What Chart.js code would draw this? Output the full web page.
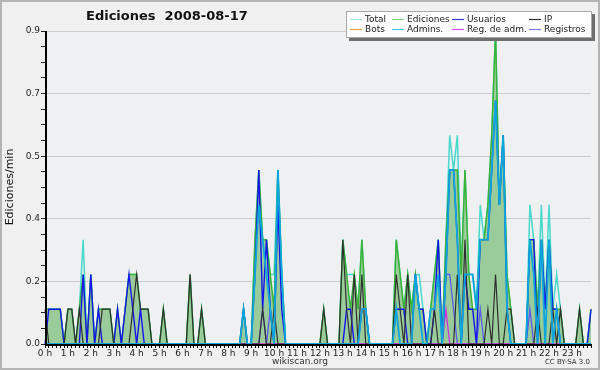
<!DOCTYPE html>
<html>
<head>
<meta charset="utf-8">
<script src="https://cdn.jsdelivr.net/npm/chart.js@4.4.1/dist/chart.umd.min.js"></script>
<style>
  html, body { margin: 0; padding: 0; background: #f0f0f0; }
  canvas { display: block; }
</style>
</head>
<body>
<canvas id="chart" width="600" height="370"></canvas>
<script>
const hourLabels = ['0 h', '1 h', '2 h', '3 h', '4 h', '5 h', '6 h', '7 h', '8 h', '9 h', '10 h', '11 h',
  '12 h', '13 h', '14 h', '15 h', '16 h', '17 h', '18 h', '19 h', '20 h', '21 h', '22 h', '23 h'];
const yTickLabels = ['0.0', '0.2', '0.4', '0.5', '0.7', '0.9'];

// one value every 10 minutes (6 per hour), 4 hours per row
const total = [
  .1,.1,.1,.1,.1,0, .1,.1,0,.1,.3,0, .2,0,.1,.1,.1,.1, 0,.1,0,.1,.2,.2,
  .2,.1,.1,.1,0,0, 0,.1,0,0,0,0, 0,0,.2,0,0,.1, 0,0,0,0,0,0,
  0,0,0,0,.1,0, 0,.3,.5,.3,.3,.2, .2,.5,.2,0,0,0, 0,0,0,0,0,0,
  0,.1,0,0,0,0, .3,.2,.2,.2,.1,.3, .1,0,0,0,0,0, 0,0,.3,.2,.1,.2,
  .1,.2,.2,.1,0,.1, .2,.3,0,.3,.6,.5, .6,.2,.5,.2,.2,.1, .4,.3,.4,.6,.9,.4,
  .6,.2,.1,0,0,0, 0,.4,.3,.1,.4,.1, .4,.1,.2,.1,0,0, 0,0,.1,0,0,.1
];
const ediciones = [
  .1,.1,.1,.1,.1,0, .1,.1,0,.1,.2,0, .2,0,.1,.1,.1,.1, 0,.1,0,.1,.2,.2,
  .2,.1,.1,.1,0,0, 0,.1,0,0,0,0, 0,0,.2,0,0,.1, 0,0,0,0,0,0,
  0,0,0,0,.1,0, 0,.3,.5,.3,.3,.2, .1,.5,.2,0,0,0, 0,0,0,0,0,0,
  0,.1,0,0,0,0, .3,.2,.1,.2,.1,.3, .1,0,0,0,0,0, 0,0,.3,.2,.1,.2,
  .1,.2,.1,.1,0,.1, .2,.3,0,.3,.5,.5, .5,.2,.5,.2,.1,.1, .3,.3,.4,.6,.9,.4,
  .6,.2,.1,0,0,0, 0,.3,.3,.1,.3,.1, .3,.1,.1,.1,0,0, 0,0,.1,0,0,.1
];
const usuarios = [
  0,.1,.1,.1,.1,0, 0,0,0,0,.2,0, .2,0,.1,0,0,0, 0,.1,0,.1,.2,.1,
  0,.1,0,0,0,0, 0,0,0,0,0,0, 0,0,0,0,0,0, 0,0,0,0,0,0,
  0,0,0,0,.1,0, 0,.2,.5,.1,.3,.1, 0,.4,.1,0,0,0, 0,0,0,0,0,0,
  0,0,0,0,0,0, 0,.1,.1,0,0,.1, .1,0,0,0,0,0, 0,0,.1,.1,.1,0,
  0,.2,.1,.1,0,0, .1,.3,0,.2,.5,.5, .3,0,.2,.1,.1,0, .3,.3,.3,.5,.7,.4,
  .6,.1,0,0,0,0, 0,.3,.3,0,.3,.1, .3,.1,.1,0,0,0, 0,0,0,0,0,.1
];
const ip = [
  .1,0,0,0,0,0, .1,.1,0,.1,0,0, 0,0,0,.1,.1,.1, 0,0,0,0,0,.1,
  .2,.1,.1,.1,0,0, 0,.1,0,0,0,0, 0,0,.2,0,0,.1, 0,0,0,0,0,0,
  0,0,0,0,0,0, 0,0,0,.1,0,0, .1,0,0,0,0,0, 0,0,0,0,0,0,
  0,.1,0,0,0,0, .3,.1,0,.2,0,.2, 0,0,0,0,0,0, 0,0,.2,.1,0,.2,
  0,0,0,0,0,0, .1,0,0,0,0,0, .2,0,.3,0,0,0, 0,0,.1,0,.2,0,
  0,.1,.1,0,0,0, 0,0,0,.1,0,0, 0,.1,0,.1,0,0, 0,0,.1,0,0,0
];
const bots = [
  0,0,0,0,0,0, 0,0,0,0,0,0, 0,0,0,0,0,0, 0,0,0,0,0,0,
  0,0,0,0,0,0, 0,0,0,0,0,0, 0,0,0,0,0,0, 0,0,0,0,0,0,
  0,0,0,0,0,0, 0,0,0,0,0,0, 0,0,0,0,0,0, 0,0,0,0,0,0,
  0,0,0,0,0,0, 0,0,0,0,0,0, 0,0,0,0,0,0, 0,0,0,0,0,0,
  0,0,0,0,0,0, 0,0,0,0,0,0, 0,0,0,0,0,0, 0,0,0,0,0,0,
  0,0,0,0,0,0, 0,0,0,0,0,0, 0,0,0,0,0,0, 0,0,0,0,0,0
];
const admins = [
  0,0,0,0,0,0, 0,0,0,0,0,0, 0,0,0,0,0,0, 0,0,0,0,0,0,
  0,0,0,0,0,0, 0,0,0,0,0,0, 0,0,0,0,0,0, 0,0,0,0,0,0,
  0,0,0,0,.1,0, 0,.2,.4,.3,.2,.1, 0,.5,.2,0,0,0, 0,0,0,0,0,0,
  0,0,0,0,0,0, 0,0,0,0,0,.1, .1,0,0,0,0,0, 0,0,.1,0,0,0,
  0,.2,.1,0,0,.1, .1,.2,0,.2,.5,.5, .3,0,.2,.2,.2,.1, .3,.3,.3,.5,.7,.4,
  .6,.1,0,0,0,0, 0,.3,.2,0,.3,0, .3,0,.1,0,0,0, 0,0,0,0,0,0
];
const regAdm = [
  0,0,0,0,0,0, 0,0,0,0,0,0, 0,0,0,0,0,0, 0,0,0,0,0,0,
  0,0,0,0,0,0, 0,0,0,0,0,0, 0,0,0,0,0,0, 0,0,0,0,0,0,
  0,0,0,0,0,0, 0,0,0,0,0,0, 0,0,0,0,0,0, 0,0,0,0,0,0,
  0,0,0,0,0,0, 0,0,0,0,0,0, 0,0,0,0,0,0, 0,0,0,0,0,0,
  0,0,0,0,0,0, 0,0,0,.1,0,0, 0,0,0,0,0,0, 0,0,0,0,0,0,
  0,0,0,0,0,0, 0,0,0,0,0,0, 0,0,0,0,0,0, 0,0,0,0,0,0
];
const registros = [
  0,0,0,0,0,0, 0,0,0,0,0,0, 0,0,0,0,0,0, 0,0,0,0,0,0,
  0,0,0,0,0,0, 0,0,0,0,0,0, 0,0,0,0,0,0, 0,0,0,0,0,0,
  0,0,0,0,0,0, 0,0,0,.1,0,.1, 0,0,0,0,0,0, 0,0,0,0,0,0,
  0,0,0,0,0,0, 0,0,0,0,0,0, 0,0,0,0,0,0, 0,0,0,0,0,0,
  0,0,0,0,0,0, 0,0,0,.2,.2,.1, 0,0,0,0,0,0, .1,0,0,0,0,0,
  0,0,0,0,0,0, 0,.1,0,0,0,0, 0,0,.1,0,0,0, 0,0,0,0,0,0
];

// 10 minute slots
const slots = [];
hourLabels.forEach((h, i) => {
  for (let m = 0; m < 60; m += 10) slots.push(i + ':' + String(m).padStart(2, '0'));
});

const FONT = '"DejaVu Sans", sans-serif';

function line(label, data, color, width, order) {
  return { label, data, borderColor: color, borderWidth: width, pointRadius: 0, tension: 0, fill: false, order };
}

const legendItems = [
  ['Total', '#a3e4dd'], ['Ediciones', '#80cf80'], ['Usuarios', '#3b3bd6'], ['IP', '#333333'],
  ['Bots', '#f2a23c'], ['Admins.', '#45c3e2'], ['Reg. de adm.', '#d04ede'], ['Registros', '#7b7be6']
];

const decor = {
  id: 'decor',
  beforeDraw(chart) {
    const { ctx, chartArea: a } = chart;
    ctx.save();
    ctx.fillStyle = '#f0f0f0';
    ctx.fillRect(0, 0, 600, 370);
    ctx.fillStyle = '#eef0f1';
    ctx.fillRect(a.left, a.top, a.right - a.left, a.bottom - a.top);
    ctx.strokeStyle = '#b4b4b4';
    ctx.lineWidth = 2;
    ctx.strokeRect(1, 1, 598, 368);
    ctx.restore();
  },
  afterDatasetsDraw(chart) {
    const { ctx, chartArea: a } = chart;
    ctx.save();
    ctx.fillStyle = '#000';
    ctx.fillRect(a.left, a.top, 2, a.bottom - a.top + 2);
    ctx.fillRect(a.left, a.bottom, a.right - a.left, 2);
    ctx.restore();
  },
  afterDraw(chart) {
    const { ctx } = chart;
    ctx.save();
    ctx.fillStyle = '#111';
    ctx.textBaseline = 'middle';
    ctx.font = 'bold 13px ' + FONT;
    ctx.fillText('Ediciones  2008-08-17', 86, 17);

    ctx.font = '11px ' + FONT;
    ctx.save();
    ctx.translate(10, 187);
    ctx.rotate(-Math.PI / 2);
    ctx.textAlign = 'center';
    ctx.fillText('Ediciones/min', 0, 0);
    ctx.restore();

    ctx.fillStyle = '#333';
    ctx.font = '9px ' + FONT;
    ctx.textAlign = 'center';
    ctx.fillText('wikiscan.org', 300, 362);
    ctx.font = '7px ' + FONT;
    ctx.textAlign = 'right';
    ctx.fillText('CC BY-SA 3.0', 590, 362);

    // legend box with shadow
    ctx.fillStyle = '#6e6e6e';
    ctx.fillRect(349, 14, 246, 27);
    ctx.fillStyle = '#ffffff';
    ctx.fillRect(346, 11, 246, 27);
    ctx.strokeStyle = '#a8a8a8';
    ctx.lineWidth = 1;
    ctx.strokeRect(346.5, 11.5, 245, 26);

    const lineX = [350, 392, 452, 529];
    const rowY = [19.5, 29.5];
    ctx.font = '9px ' + FONT;
    ctx.textAlign = 'left';
    legendItems.forEach(([name, color], i) => {
      const x = lineX[i % 4], y = rowY[Math.floor(i / 4)];
      ctx.strokeStyle = color;
      ctx.lineWidth = 1.2;
      ctx.beginPath();
      ctx.moveTo(x, y);
      ctx.lineTo(x + 12, y);
      ctx.stroke();
      ctx.fillStyle = '#222';
      ctx.fillText(name, x + 15, y);
    });
    ctx.restore();
  }
};

new Chart(document.getElementById('chart').getContext('2d'), {
  type: 'line',
  data: {
    labels: slots,
    datasets: [
      line('Total', total, '#48d8cc', 1.5, 9),
      { label: 'Ediciones', data: ediciones, borderColor: '#38b238', borderWidth: 1.5, pointRadius: 0, tension: 0,
        fill: 'origin', backgroundColor: '#9acb9a', order: 8 },
      line('Bots', bots, '#f2a23c', 1.2, 7),
      line('Registros', registros, '#5a5aee', 1.3, 6),
      line('Reg. de adm.', regAdm, '#cc33dd', 1.3, 5),
      line('Usuarios', usuarios, '#1414ee', 1.4, 4),
      line('IP', ip, '#2f2f2f', 1.2, 3),
      line('Admins.', admins, '#0ca6dc', 1.8, 2)
    ]
  },
  options: {
    responsive: false,
    animation: false,
    devicePixelRatio: 1,
    layout: { padding: { left: 0, right: 9, top: 31, bottom: 0 } },
    plugins: {
      legend: { display: false },
      title: { display: false },
      tooltip: { enabled: false }
    },
    scales: {
      x: {
        offset: false,
        grid: { drawOnChartArea: false, drawTicks: true, tickLength: 4, color: '#000', tickColor: '#000' },
        border: { display: true, color: '#000' },
        ticks: {
          autoSkip: false, maxRotation: 0, minRotation: 0, padding: 0,
          color: '#222', font: { family: FONT, size: 9 },
          callback: (v, i) => (i % 6 === 0 ? hourLabels[i / 6] : '')
        },
        afterFit(s) { s.height = 26; }
      },
      y: {
        min: 0,
        max: 0.9,
        afterBuildTicks(s) {
          const t = [];
          for (let k = 0; k <= 20; k++) t.push({ value: k * 0.045 });
          s.ticks = t;
        },
        grid: {
          tickLength: 4,
          tickColor: '#222',
          color: c => (c.index % 4 === 0 && c.index > 0 ? '#cccccc' : 'rgba(0,0,0,0)')
        },
        border: { display: true, color: '#000' },
        ticks: {
          autoSkip: false, padding: 1, color: '#222', font: { family: FONT, size: 9 },
          callback: (v, i) => (i % 4 === 0 ? yTickLabels[i / 4] : '')
        },
        afterFit(s) { s.width = 45; }
      }
    }
  },
  plugins: [decor]
});
</script>
</body>
</html>
